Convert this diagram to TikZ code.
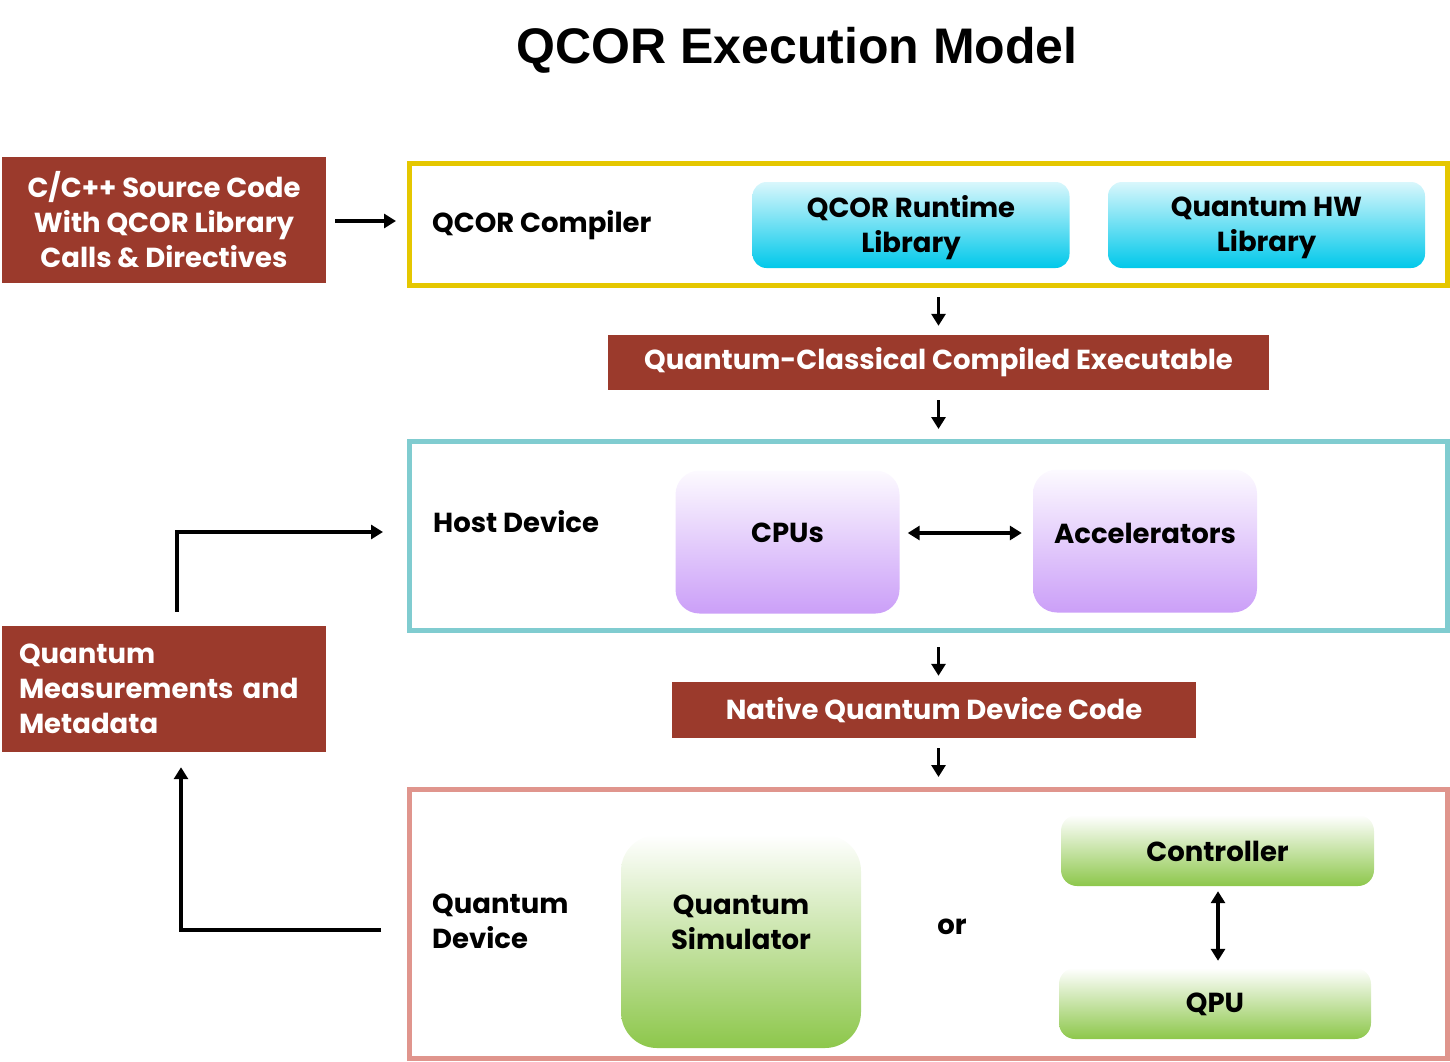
\documentclass[tikz,border=0pt]{standalone}
\usepackage{fontspec}
\setmainfont{Poppins}
\newfontfamily\titlefont{Liberation Sans}
\usetikzlibrary{positioning,arrows.meta}
\definecolor{QRed}{HTML}{9B3A2C}
\definecolor{QYellow}{HTML}{E5C700}
\definecolor{QTeal}{HTML}{80CCD0}
\definecolor{QPink}{HTML}{E0958D}
\definecolor{QCyan}{HTML}{00C8EA}
\definecolor{QPurple}{HTML}{CB9FF8}
\definecolor{QGreen}{HTML}{8DC74B}
\tikzstyle{txt} = [font=\bfseries\fontsize{27.5}{35}\selectfont, inner sep=0pt, align=left]
\tikzstyle{redbox} = [fill=QRed, text=white, font=\bfseries\fontsize{27.5}{35}\selectfont, inner sep=0pt, align=center]
\tikzstyle{frame} = [draw, line width=5pt, inner sep=0pt, minimum width=1038pt]
\tikzstyle{libbox} = [top color=QCyan!15!white, middle color=QCyan!75!white, bottom color=QCyan, rounded corners=14pt, minimum width=317pt, minimum height=86pt]
\tikzstyle{hostbox} = [top color=QPurple!5!white, middle color=QPurple!45!white, bottom color=QPurple, rounded corners=24pt, minimum width=224pt, minimum height=143pt]
\tikzstyle{qbox} = [top color=white, middle color=QGreen!35!white, bottom color=QGreen, rounded corners=16pt, minimum width=313pt, minimum height=71pt]
\tikzstyle{arr} = [line width=3.2pt, -{Triangle[length=12pt,width=14pt]}]
\tikzstyle{dblarr} = [line width=3.2pt, {Triangle[length=12pt,width=14pt]}-{Triangle[length=12pt,width=14pt]}]

\begin{document}
\begin{tikzpicture}[x=1pt,y=-1pt]
\useasboundingbox (0,0) rectangle (1450,1062);
\node[font=\titlefont\bfseries\fontsize{50}{54}\selectfont] (title) at (797,50) {QCOR Execution Model};

% compiler stage
\node[redbox, minimum width=324pt, minimum height=126pt] (src) at (164,220) {C/C++ Source Code\\With QCOR Library\\Calls \& Directives};
\node[frame, draw=QYellow, minimum height=122pt] (compiler) at (928.5,224.5) {};
\node[txt, anchor=west] (complbl) at (432,225) {QCOR Compiler};
\node[libbox, label={[txt, align=center, yshift=-3pt]center:QCOR Runtime\\Library}] (rtlib) at (911,225) {};
\node[libbox, label={[txt, align=center, yshift=-3pt]center:Quantum HW\\Library}] (hwlib) at (1266.5,225) {};
\node[redbox, minimum width=661pt, minimum height=55pt] (exe) at (938.5,362.5) {Quantum-Classical Compiled Executable};

% host
\node[frame, draw=QTeal, minimum height=189pt] (host) at (928.5,536) {};
\node[txt, anchor=west] (hostlbl) at (433,522) {Host Device};
\node[hostbox, label={[txt, yshift=9pt]center:CPUs}] (cpu) at (787.5,542) {};
\node[hostbox, label={[txt, yshift=8pt]center:Accelerators}] (acc) at (1145,541) {};
\node[redbox, minimum width=524pt, minimum height=56pt] (native) at (934,710) {Native Quantum Device Code};

% quantum device
\node[frame, draw=QPink, minimum height=269pt] (qdev) at (928.5,924) {};
\node[txt, anchor=west] (qdevlbl) at (432,921) {Quantum\\Device};
\node[top color=white, middle color=QGreen!30!white, bottom color=QGreen, rounded corners=36pt, minimum width=240pt, minimum height=213pt, label={[txt, align=center, yshift=19pt]center:Quantum\\Simulator}] (sim) at (741,941.5) {};
\node[txt] (or) at (952,927) {or};
\node[qbox, label={[txt, yshift=-1pt]center:Controller}] (ctrl) at (1217.5,850.5) {};
\node[qbox, minimum width=312pt, label={[txt, yshift=-1pt]center:QPU}] (qpu) at (1215,1003.5) {};
\node[redbox, align=left, text width=290pt, minimum width=324pt, minimum height=126pt] (meas) at (164,689) {Quantum\\Measurements and\\Metadata};

% connectors
\draw[arr, shorten <=9pt, shorten >=11pt] (src.east |- 0,221) -- (compiler.west |- 0,221);
\draw[arr, shorten <=9pt, shorten >=9pt] (compiler.south -| exe) -- (exe.north);
\draw[arr, shorten <=10pt, shorten >=10pt] (exe.south) -- (exe.south |- host.north);
\draw[arr, shorten <=14pt, shorten >=6pt] (host.south -| exe) -- (native.north -| exe);
\draw[arr, shorten <=10pt, shorten >=10pt] (native.south -| exe) -- (qdev.north -| exe);
\draw[dblarr, shorten <=8pt, shorten >=11pt] (cpu.east |- 0,533) -- (acc.west |- 0,533);
\draw[dblarr, shorten <=7pt, shorten >=5pt] (qpu.north -| 1218,0) -- (ctrl.south -| 1218,0);
\draw[arr, shorten <=26pt, shorten >=15pt] (qdev.west |- 0,930) -| ([xshift=17pt]meas.south);
\draw[arr, shorten <=14pt, shorten >=24pt] ([xshift=13pt]meas.north) |- (host.west |- 0,532);
\end{tikzpicture}
\end{document}
